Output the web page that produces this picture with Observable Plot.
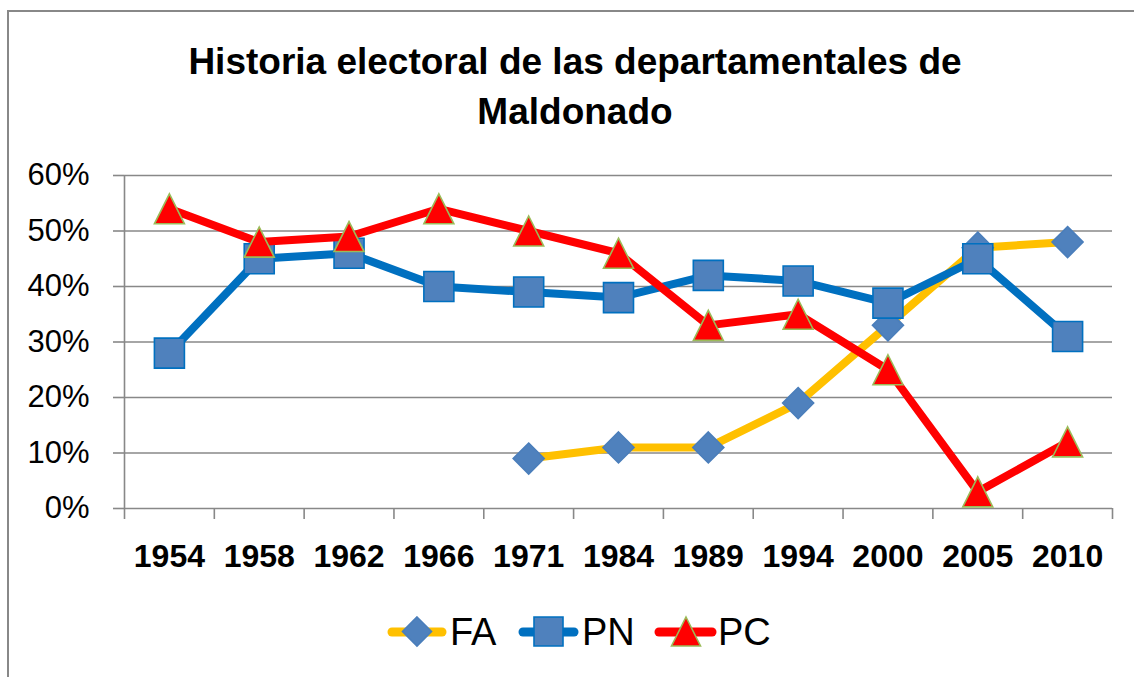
<!DOCTYPE html>
<html>
<head>
<meta charset="utf-8">
<script src="https://cdn.jsdelivr.net/npm/d3@7"></script>
<script src="https://cdn.jsdelivr.net/npm/@observablehq/plot@0.6"></script>
<style>
  html, body { margin: 0; padding: 0; background: #fff; }
  #page { position: relative; width: 1134px; height: 677px; overflow: hidden; font-family: "Liberation Sans", Arial, sans-serif; }
  #frame { position: absolute; left: 7px; top: 10px; width: 1200px; height: 800px; border-left: 2px solid #888; border-top: 2px solid #888; }
  .title { position: absolute; left: 0; width: 1150px; text-align: center; font-weight: bold; font-size: 37px; line-height: 50px; color: #000; }
  #chart { position: absolute; left: 0; top: 150px; }
  #legend { position: absolute; left: 0; top: 600px; }
</style>
</head>
<body>
<div id="page">
  <div id="frame"></div>
  <div class="title" style="top:37px">Historia electoral de las departamentales de</div>
  <div class="title" style="top:87px">Maldonado</div>
  <div id="chart"></div>
  <svg id="legend" width="1134" height="70"></svg>
</div>
<script>
// ---- data ----
const years = ["1954","1958","1962","1966","1971","1984","1989","1994","2000","2005","2010"];
const FA = [null, null, null, null, 0.09, 0.11, 0.11, 0.19, 0.33, 0.47, 0.48];
const PN = [0.28, 0.45, 0.46, 0.40, 0.39, 0.38, 0.42, 0.41, 0.37, 0.45, 0.31];
const PC = [0.54, 0.48, 0.49, 0.54, 0.50, 0.46, 0.33, 0.35, 0.25, 0.03, 0.12];
const yTicks = [0, 0.1, 0.2, 0.3, 0.4, 0.5, 0.6];
const seriesNames = ["FA", "PN", "PC"];

// ---- styling ----
const colors = {
  FA: {line: "#FFC000", fill: "#4F81BD", stroke: "#4A7EBB"},
  PN: {line: "#0070C0", fill: "#4F81BD", stroke: "#0070C0"},
  PC: {line: "#FF0000", fill: "#FF0000", stroke: "#9BBB59"}
};
const symDiamond = {draw(ctx, size) { const h = Math.sqrt(size / Math.PI); ctx.moveTo(0, -h); ctx.lineTo(h, 0); ctx.lineTo(0, h); ctx.lineTo(-h, 0); ctx.closePath(); }};
const symSquare = {draw(ctx, size) { const h = Math.sqrt(size / Math.PI); ctx.moveTo(-h, -h); ctx.lineTo(h, -h); ctx.lineTo(h, h); ctx.lineTo(-h, h); ctx.closePath(); }};
const symTriangle = {draw(ctx, size) { const h = Math.sqrt(size / Math.PI); ctx.moveTo(0, -h); ctx.lineTo(h, h); ctx.lineTo(-h, h); ctx.closePath(); }};
const symbols = {FA: symDiamond, PN: symSquare, PC: symTriangle};
const radii = {FA: 15.5, PN: 15, PC: 15};

const seriesData = {FA, PN, PC};
const tables = {};
for (const s of seriesNames) {
  tables[s] = seriesData[s].map((v, i) => ({i, year: years[i], v}));
}
const bounds = d3.range(years.length + 1).map(k => k - 0.5);
const grey = "#888888";

const marks = [
  Plot.gridY(yTicks, {stroke: grey, strokeOpacity: 1, strokeWidth: 1.6}),
  Plot.axisY(yTicks, {label: null, tickSize: 11, tickPadding: 24, stroke: grey, strokeWidth: 1.6, strokeOpacity: 1,
    tickFormat: d3.format(".0%"), fontSize: 31, fill: "#000"}),
  Plot.ruleX([-0.5], {stroke: grey, strokeWidth: 1.6}),
  Plot.axisX(bounds, {label: null, tickSize: 11, stroke: grey, strokeWidth: 1.6, strokeOpacity: 1, tickFormat: () => ""}),
  Plot.axisX(d3.range(years.length), {label: null, tickSize: 0, tickPadding: 36, tickFormat: i => years[i],
    fontSize: 32, fontWeight: "bold", fill: "#000"})
];
for (const s of seriesNames) {
  const t = tables[s];
  marks.push(Plot.line(t, {x: "i", y: "v", stroke: colors[s].line, strokeWidth: 8,
    strokeLinejoin: "round", strokeLinecap: "round"}));
  marks.push(Plot.dot(t.filter(d => d.v != null), {x: "i", y: "v", r: radii[s], symbol: () => symbols[s],
    fill: colors[s].fill, stroke: colors[s].stroke, strokeWidth: 1.6}));
}

const chart = Plot.plot({
  width: 1134,
  height: 440,
  marginTop: 25,
  marginBottom: 82,
  marginLeft: 124,
  marginRight: 22,
  style: {fontFamily: "'Liberation Sans', Arial, sans-serif", color: "#000", background: "transparent", overflow: "visible"},
  x: {type: "linear", domain: [-0.5, years.length - 0.5], label: null},
  y: {type: "linear", domain: [0, 0.6], label: null},
  symbol: {type: "identity"},
  marks
});
document.getElementById("chart").appendChild(chart);

// ---- legend ----
const leg = d3.select("#legend");
const legendItems = [
  {name: "FA", x0: 392, x1: 442, cx: 417, tx: 450},
  {name: "PN", x0: 523, x1: 574, cx: 548.5, tx: 582},
  {name: "PC", x0: 659, x1: 712, cx: 686, tx: 718}
];
for (const it of legendItems) {
  const c = colors[it.name];
  leg.append("line").attr("x1", it.x0).attr("x2", it.x1).attr("y1", 32).attr("y2", 32)
    .attr("stroke", c.line).attr("stroke-width", 9).attr("stroke-linecap", "round");
  const p = d3.path();
  symbols[it.name].draw(p, Math.PI * 14.5 * 14.5);
  leg.append("path").attr("d", p.toString()).attr("transform", `translate(${it.cx},31.5)`)
    .attr("fill", c.fill).attr("stroke", c.stroke).attr("stroke-width", 1.6);
  leg.append("text").attr("x", it.tx).attr("y", 45).attr("font-size", 38)
    .attr("font-family", "'Liberation Sans', Arial, sans-serif").attr("fill", "#000").text(it.name);
}
</script>
</body>
</html>
